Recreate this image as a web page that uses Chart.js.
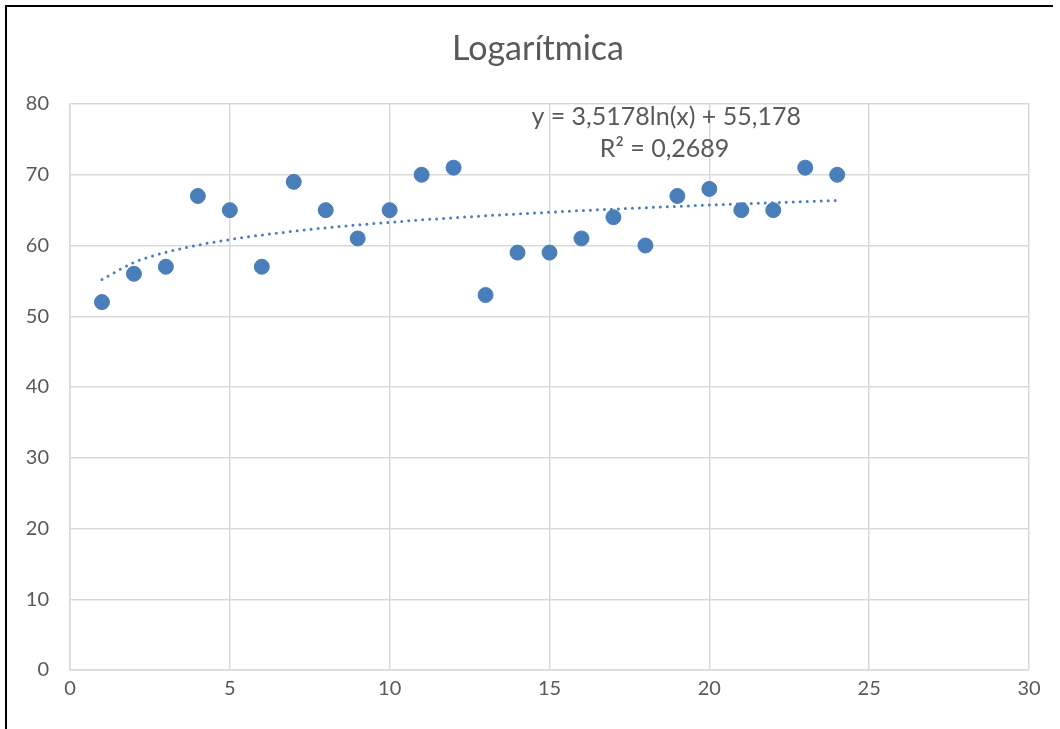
<!DOCTYPE html>
<html>
<head>
    <title>Logarítmica</title>
    <script src="https://cdn.jsdelivr.net/npm/chart.js"></script>
    <style>
        body { margin: 0; background: #fff; }
        #wrap { position: relative; width: 1060px; height: 729px; }
        #frame { position: absolute; left: 5px; top: 5px; width: 1046px; height: 730px;
                 border-top: 2px solid #000; border-left: 2px solid #000; pointer-events: none; }
    </style>
</head>
<body>
    <div id="wrap">
        <canvas id="logChart" width="1060" height="729"></canvas>
        <div id="frame"></div>
    </div>

    <script>
        const xValues = [1, 2, 3, 4, 5, 6, 7, 8, 9, 10, 11, 12, 13, 14, 15, 16, 17, 18, 19, 20, 21, 22, 23, 24];
        const yValues = [52, 56, 57, 67, 65, 57, 69, 65, 61, 65, 70, 71, 53, 59, 59, 61, 64, 60, 67, 68, 65, 65, 71, 70];
        const xTicks = [0, 5, 10, 15, 20, 25, 30];
        const yTicks = [0, 10, 20, 30, 40, 50, 60, 70, 80];

        // trendline coefficients as printed on the chart
        const slope = 3.5178;
        const intercept = 55.178;
        const eqLabel = 'y = 3,5178ln(x) + 55,178';
        const r2Label = 'R² = 0,2689';

        const points = xValues.map((x, i) => ({ x: x, y: yValues[i] }));
        const trend = xValues.map(x => ({ x: x, y: slope * Math.log(x) + intercept }));

        const blue = '#4A7EBB';
        const grey = '#595959';
        const font = 'Lato, "Open Sans", sans-serif';

        const textPlugin = {
            id: 'textPlugin',
            afterDraw(chart) {
                const ctx = chart.ctx;
                const xs = chart.scales.x, ys = chart.scales.y;
                ctx.save();
                ctx.fillStyle = grey;
                ctx.textAlign = 'center';
                ctx.textBaseline = 'middle';
                ctx.font = '34px ' + font;
                ctx.fillText('Logarítmica', 538, 49);
                ctx.font = '25px ' + font;
                ctx.fillText(eqLabel, xs.getPixelForValue(18.65), ys.getPixelForValue(78.2));
                ctx.fillText(r2Label, xs.getPixelForValue(18.6), ys.getPixelForValue(73.6));
                ctx.restore();
            }
        };

        new Chart(document.getElementById('logChart').getContext('2d'), {
            type: 'scatter',
            data: {
                datasets: [
                    {
                        label: 'Datos',
                        data: points,
                        backgroundColor: blue,
                        borderColor: blue,
                        pointRadius: 7.5,
                        pointHoverRadius: 7.5,
                        order: 1
                    },
                    {
                        label: 'Tendencia',
                        data: trend,
                        type: 'line',
                        showLine: true,
                        borderColor: blue,
                        borderWidth: 3,
                        borderDash: [0, 7],
                        borderCapStyle: 'round',
                        cubicInterpolationMode: 'monotone',
                        pointRadius: 0,
                        fill: false,
                        order: 2
                    }
                ]
            },
            options: {
                responsive: false,
                animation: false,
                layout: { padding: { left: 0, right: 31, top: 104, bottom: 0 } },
                plugins: {
                    legend: { display: false },
                    tooltip: { enabled: false },
                    title: { display: false }
                },
                scales: {
                    x: {
                        type: 'linear',
                        min: 0, max: 30,
                        afterBuildTicks: axis => { axis.ticks = xTicks.map(v => ({ value: v })); },
                        afterFit: axis => { axis.height = 59; },
                        grid: { color: '#D9D9D9', lineWidth: 1.5, drawTicks: false },
                        border: { color: '#D9D9D9', width: 1.5 },
                        ticks: { color: grey, font: { family: font, size: 20 }, padding: 7 }
                    },
                    y: {
                        min: 0, max: 80,
                        afterBuildTicks: axis => { axis.ticks = yTicks.map(v => ({ value: v })); },
                        afterFit: axis => { axis.width = 70; },
                        grid: { color: '#D9D9D9', lineWidth: 1.5, drawTicks: false },
                        border: { color: '#D9D9D9', width: 1.5 },
                        ticks: { color: grey, font: { family: font, size: 20 }, padding: 21 }
                    }
                }
            },
            plugins: [textPlugin]
        });
    </script>
</body>
</html>
